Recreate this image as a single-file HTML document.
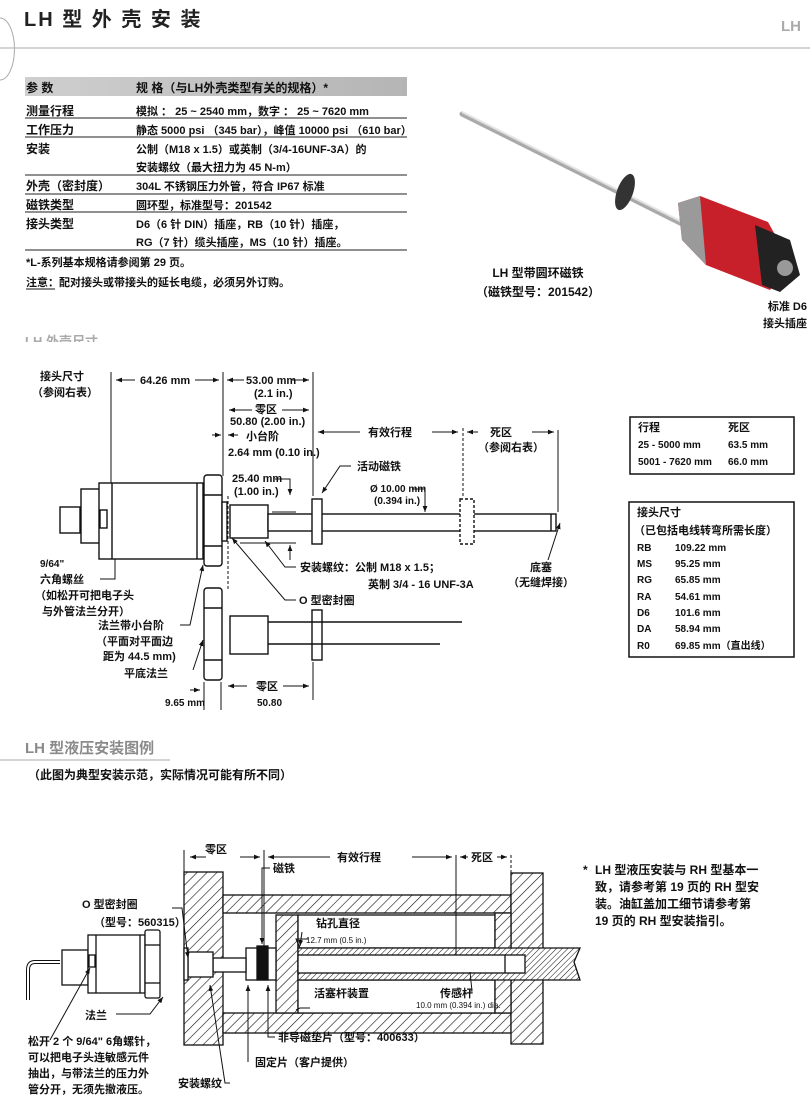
<!DOCTYPE html>
<html><head><meta charset="utf-8"><style>
html,body{margin:0;padding:0;background:#fff;}
svg{display:block;}
text{font-family:"Liberation Sans","Noto Sans CJK SC",sans-serif;font-weight:bold;fill:#111;}
.s{font-size:11px;}
.m{font-size:12px;}
.t{font-size:9px;font-weight:normal;}
</style></head><body>
<svg width="810" height="1100" viewBox="0 0 810 1100" xmlns="http://www.w3.org/2000/svg">
<defs>
<pattern id="h" width="7" height="7" patternUnits="userSpaceOnUse" patternTransform="rotate(45)">
<rect width="7" height="7" fill="#fff"/><line x1="0" y1="0" x2="0" y2="7" stroke="#111" stroke-width="1.2"/></pattern>
<pattern id="h2" width="4" height="4" patternUnits="userSpaceOnUse" patternTransform="rotate(45)">
<rect width="4" height="4" fill="#fff"/><line x1="0" y1="0" x2="0" y2="4" stroke="#111" stroke-width="1"/></pattern>
<marker id="a" viewBox="0 0 10 10" refX="10" refY="5" markerWidth="6" markerHeight="6" orient="auto-start-reverse"><path d="M0,1 L10,5 L0,9z" fill="#111"/></marker>
<clipPath id="cl"><rect x="0" y="334" width="200" height="8"/></clipPath>
</defs>

<!-- header -->
<path d="M0,18 A14,30 0 0 1 0,80" fill="none" stroke="#aaa" stroke-width="1"/>
<text x="24" y="26" style="font-size:20px;letter-spacing:2px;fill:#222">LH 型 外 壳 安 装</text>
<line x1="0" y1="48" x2="810" y2="48" stroke="#bbb" stroke-width="1.3"/>
<text x="781" y="31" style="font-size:15px;fill:#aaa">LH</text>

<!-- spec table -->
<defs><linearGradient id="g" x1="0" x2="1"><stop offset="0" stop-color="#cfcfcf"/><stop offset="1" stop-color="#b5b5b5"/></linearGradient></defs>
<rect x="25" y="77" width="382" height="19" fill="url(#g)"/>
<text class="m" x="26" y="92">参 数</text>
<text class="m" x="136" y="92">规 格（与LH外壳类型有关的规格）*</text>
<g class="s">
<text x="26" y="115" class="m">测量行程</text><text x="136" y="115" class="s">模拟 ： 25 ~ 2540 mm，数字 ： 25 ~ 7620 mm</text>
<text x="26" y="134" class="m">工作压力</text><text x="136" y="134" class="s">静态 5000 psi （345 bar），峰值 10000 psi （610 bar）</text>
<text x="26" y="153" class="m">安装</text><text x="136" y="153" class="s">公制（M18 x 1.5）或英制（3/4-16UNF-3A）的</text>
<text x="136" y="171" class="s">安装螺纹（最大扭力为 45 N-m）</text>
<text x="26" y="190" class="m">外壳（密封度）</text><text x="136" y="190" class="s">304L 不锈钢压力外管，符合 IP67 标准</text>
<text x="26" y="209" class="m">磁铁类型</text><text x="136" y="209" class="s">圆环型，标准型号：201542</text>
<text x="26" y="228" class="m">接头类型</text><text x="136" y="228" class="s">D6（6 针 DIN）插座，RB（10 针）插座，</text>
<text x="136" y="246" class="s">RG（7 针）缆头插座，MS（10 针）插座。</text>
</g>
<g stroke="#222" stroke-width="1"><line x1="25" y1="118" x2="407" y2="118"/><line x1="25" y1="137" x2="407" y2="137"/><line x1="25" y1="175" x2="407" y2="175"/><line x1="25" y1="194" x2="407" y2="194"/><line x1="25" y1="212" x2="407" y2="212"/><line x1="25" y1="250" x2="407" y2="250"/></g>
<text class="s" x="26" y="266">*L-系列基本规格请参阅第 29 页。</text>
<text class="s" x="26" y="286">注意：配对接头或带接头的延长电缆，必须另外订购。</text>
<line x1="26" y1="289" x2="55" y2="289" stroke="#111"/>

<!-- photo -->
<line x1="462" y1="114" x2="690" y2="228" stroke="#aaa" stroke-width="5" stroke-linecap="round"/>
<line x1="462" y1="112" x2="690" y2="226" stroke="#e2e2e2" stroke-width="2"/>
<ellipse cx="625" cy="192" rx="8" ry="19" fill="#333" transform="rotate(20 625 192)"/>
<polygon points="678,203 700,196 768,222 790,262 770,290 706,265 682,240" fill="#c8202a"/>
<polygon points="678,203 700,196 706,265 682,240" fill="#9a9a9a"/>
<polygon points="755,225 790,240 800,275 780,292 762,285" fill="#222"/>
<circle cx="785" cy="268" r="8" fill="#999"/>
<text x="538" y="277" text-anchor="middle" class="m">LH 型带圆环磁铁</text>
<text x="538" y="296" text-anchor="middle" class="m">（磁铁型号：201542）</text>
<text x="807" y="310" text-anchor="end" class="s">标准 D6</text>
<text x="807" y="327" text-anchor="end" class="s">接头插座</text>
<g clip-path="url(#cl)"><text x="25" y="346" style="font-size:13px;fill:#aaa">LH 外壳尺寸</text></g>

<!-- diagram 1 -->
<g stroke="#111" fill="none" stroke-width="1">
<line x1="111" y1="372" x2="111" y2="483"/>
<line x1="223" y1="372" x2="223" y2="476"/>
<line x1="313" y1="372" x2="313" y2="496"/>
<line x1="463" y1="428" x2="463" y2="496" stroke-dasharray="3,2"/>
<line x1="558" y1="430" x2="558" y2="512"/>
<line x1="116" y1="380" x2="135" y2="380" marker-start="url(#a)"/>
<line x1="195" y1="380" x2="219" y2="380" marker-end="url(#a)"/>
<line x1="227" y1="380" x2="244" y2="380" marker-start="url(#a)"/>
<line x1="292" y1="380" x2="309" y2="380" marker-end="url(#a)"/>
<line x1="229" y1="410" x2="252" y2="410" marker-start="url(#a)"/>
<line x1="282" y1="410" x2="309" y2="410" marker-end="url(#a)"/>
<line x1="212" y1="495" x2="221" y2="495" marker-end="url(#a)"/>
<line x1="238" y1="435" x2="228" y2="435" marker-end="url(#a)"/>
<line x1="212" y1="435" x2="221" y2="435" marker-end="url(#a)"/>
<line x1="318" y1="432" x2="360" y2="432" marker-start="url(#a)"/>
<line x1="432" y1="432" x2="458" y2="432" marker-end="url(#a)"/>
<line x1="467" y1="432" x2="478" y2="432" marker-start="url(#a)"/>
<line x1="532" y1="432" x2="554" y2="432" marker-end="url(#a)"/>
<line x1="228" y1="496" x2="228" y2="590" stroke-dasharray="3,2"/>
<polyline points="275,479 290,479 290,495" marker-end="url(#a)"/>
<line x1="272" y1="512" x2="296" y2="512"/>
<line x1="240" y1="543" x2="296" y2="543"/>
<line x1="290" y1="560" x2="290" y2="545" marker-end="url(#a)"/>
<polyline points="351,466 340,466 322,493" marker-end="url(#a)"/>
<polyline points="412,489 425,489 425,512" marker-end="url(#a)"/>
<polyline points="296,567 285,567 265,541" marker-end="url(#a)"/>
<polyline points="296,600 285,600 232,538" marker-end="url(#a)"/>
<polyline points="100,579 115,579 115,525"/>
<polyline points="548,560 560,523" marker-end="url(#a)"/>
<polyline points="180,625 190,625 203,565" marker-end="url(#a)"/>
<polyline points="193,670 203,640" marker-end="url(#a)"/>
<line x1="204" y1="682" x2="204" y2="710"/><line x1="221" y1="682" x2="221" y2="710"/>
<line x1="313" y1="662" x2="313" y2="700"/>
<polyline points="190,690 200,690" marker-end="url(#a)"/>
<line x1="228" y1="686" x2="247" y2="686" marker-start="url(#a)"/>
<line x1="283" y1="686" x2="309" y2="686" marker-end="url(#a)"/>
</g>
<g stroke="#111" stroke-width="1.4" fill="#fff">
<rect x="60" y="507" width="20" height="26"/>
<rect x="81" y="489" width="19" height="54"/>
<rect x="99" y="483" width="104" height="76"/>
<rect x="100" y="510" width="7" height="18"/>
<line x1="112" y1="483" x2="112" y2="559"/><line x1="197" y1="483" x2="197" y2="559"/>
<rect x="204" y="475" width="18" height="91" rx="3"/>
<line x1="204" y1="495" x2="222" y2="495"/><line x1="204" y1="546" x2="222" y2="546"/>
<rect x="222" y="502" width="5" height="39"/>
<rect x="230" y="505" width="38" height="33"/>
<rect x="268" y="514" width="288" height="17"/>
<rect x="312" y="499" width="10" height="45"/>
<rect x="460" y="499" width="14" height="45" stroke-dasharray="3,2"/>
<line x1="551" y1="514" x2="551" y2="531"/>
<rect x="204" y="588" width="18" height="92" rx="3"/>
<line x1="204" y1="608" x2="222" y2="608"/><line x1="204" y1="660" x2="222" y2="660"/>
<rect x="230" y="616" width="38" height="38"/>
<rect x="312" y="610" width="10" height="50"/>
</g>
<g stroke="#111" stroke-width="1.4"><line x1="268" y1="622" x2="462" y2="622"/><line x1="268" y1="644" x2="440" y2="644"/></g>
<g class="s">
<text x="40" y="380">接头尺寸</text><text x="32" y="396">（参阅右表）</text>
<text x="140" y="384">64.26 mm</text>
<text x="246" y="384">53.00 mm</text><text x="254" y="397">(2.1 in.)</text>
<text x="255" y="413">零区</text><text x="230" y="425">50.80 (2.00 in.)</text>
<text x="246" y="440">小台阶</text><text x="228" y="456">2.64 mm (0.10 in.)</text>
<text x="368" y="436">有效行程</text>
<text x="490" y="436">死区</text><text x="478" y="451">（参阅右表）</text>
<text x="357" y="470">活动磁铁</text>
<text x="232" y="482">25.40 mm</text><text x="234" y="495">(1.00 in.)</text>
<text x="370" y="492" style="font-size:10px">Ø 10.00 mm</text><text x="374" y="504" style="font-size:10px">(0.394 in.)</text>
<text x="40" y="567" style="font-size:10px">9/64"</text>
<text x="40" y="583">六角螺丝</text><text x="35" y="599">（如松开可把电子头</text><text x="42" y="615">与外管法兰分开）</text>
<text x="300" y="571">安装螺纹：公制 M18 x 1.5；</text>
<text x="368" y="588">英制 3/4 - 16 UNF-3A</text>
<text x="299" y="604">O 型密封圈</text>
<text x="530" y="571">底塞</text><text x="508" y="586">（无缝焊接）</text>
<text x="98" y="629">法兰带小台阶</text><text x="96" y="645">（平面对平面边</text><text x="103" y="660">距为 44.5 mm)</text>
<text x="124" y="677">平底法兰</text>
<text x="165" y="706" style="font-size:10px">9.65 mm</text>
<text x="256" y="690">零区</text><text x="257" y="706" style="font-size:10px">50.80</text>
</g>

<!-- right tables -->
<rect x="630" y="417" width="164" height="57" fill="none" stroke="#111" stroke-width="1.5"/>
<g class="s">
<text x="638" y="431">行程</text><text x="728" y="431">死区</text>
<text x="638" y="448" style="font-size:10px">25 - 5000    mm</text><text x="728" y="448" style="font-size:10px">63.5 mm</text>
<text x="638" y="465" style="font-size:10px">5001 - 7620 mm</text><text x="728" y="465" style="font-size:10px">66.0 mm</text>
</g>
<rect x="629" y="502" width="165" height="155" fill="none" stroke="#111" stroke-width="1.5"/>
<g class="s" style="font-size:10px">
<text x="637" y="516" class="s">接头尺寸</text>
<text x="634" y="534" class="s">（已包括电线转弯所需长度）</text>
<text x="637" y="551">RB</text><text x="675" y="551">109.22 mm</text>
<text x="637" y="567">MS</text><text x="675" y="567">95.25 mm</text>
<text x="637" y="583">RG</text><text x="675" y="583">65.85 mm</text>
<text x="637" y="600">RA</text><text x="675" y="600">54.61 mm</text>
<text x="637" y="616">D6</text><text x="675" y="616">101.6 mm</text>
<text x="637" y="632">DA</text><text x="675" y="632">58.94 mm</text>
<text x="637" y="649">R0</text><text x="675" y="649">69.85 mm（直出线）</text>
</g>

<!-- section 2 -->
<text x="25" y="753" style="font-size:15px;fill:#8a8a8a">LH 型液压安装图例</text>
<line x1="0" y1="760" x2="170" y2="760" stroke="#bbb" stroke-width="1.3"/>
<text x="28" y="779" class="m">（此图为典型安装示范，实际情况可能有所不同）</text>

<g stroke="#111" stroke-width="1.3">
<rect x="184" y="872" width="39" height="173" fill="url(#h)"/>
<rect x="223" y="895" width="288" height="18" fill="url(#h)"/>
<rect x="223" y="1013" width="288" height="20" fill="url(#h)"/>
<rect x="511" y="873" width="32" height="171" fill="url(#h)"/>
<rect x="276" y="915" width="22" height="98" fill="url(#h)"/>
<rect x="298" y="915" width="197" height="33" fill="#fff"/>
<rect x="298" y="980" width="197" height="33" fill="#fff"/>
<rect x="495" y="913" width="16" height="100" fill="url(#h)"/>
<polygon points="298,948 580,948 574,962 580,980 298,980" fill="url(#h2)"/>
<rect x="298" y="955" width="227" height="18" fill="#fff"/>
<line x1="505" y1="955" x2="505" y2="973"/>
<rect x="246" y="948" width="30" height="32" fill="#fff"/>
<rect x="257" y="946" width="11" height="34" fill="#111"/>
<rect x="213" y="958" width="33" height="14" fill="#fff"/>
<rect x="188" y="952" width="25" height="25" fill="#fff"/>
<rect x="184" y="948" width="4" height="32" fill="#fff"/>
<rect x="62" y="950" width="26" height="35" fill="#fff"/>
<rect x="88" y="935" width="57" height="58" fill="#fff"/>
<line x1="96" y1="935" x2="96" y2="993"/><line x1="140" y1="935" x2="140" y2="993"/>
<rect x="145" y="930" width="15" height="68" rx="2" fill="#fff"/>
<line x1="145" y1="945" x2="160" y2="945"/><line x1="145" y1="983" x2="160" y2="983"/>
<rect x="89" y="955" width="6" height="12" fill="#fff"/>
</g>
<path d="M60,962 L35,962 Q28,962 28,970 L28,1000" stroke="#111" fill="none" stroke-width="4"/>
<path d="M60,962 L35,962 Q28,962 28,970 L28,1000" stroke="#fff" fill="none" stroke-width="2"/>
<g stroke="#111" stroke-width="1" fill="none">
<line x1="184" y1="850" x2="184" y2="872"/><line x1="264" y1="850" x2="264" y2="946"/>
<line x1="456" y1="855" x2="456" y2="955"/><line x1="511" y1="855" x2="511" y2="895" stroke-dasharray="3,2"/>
<line x1="190" y1="857" x2="206" y2="857" marker-start="url(#a)"/>
<line x1="240" y1="857" x2="260" y2="857" marker-end="url(#a)"/>
<line x1="268" y1="857" x2="330" y2="857" marker-start="url(#a)"/>
<line x1="412" y1="857" x2="452" y2="857" marker-end="url(#a)"/>
<line x1="460" y1="857" x2="468" y2="857" marker-start="url(#a)"/>
<line x1="497" y1="857" x2="507" y2="857" marker-end="url(#a)"/>
<polyline points="270,868 262,868 262,944" marker-end="url(#a)"/>
<polyline points="172,908 182,908 188,958" marker-end="url(#a)"/>
<polyline points="302,932 300,946" marker-end="url(#a)"/>
<polyline points="308,939 296,939 300,948"/>
<polyline points="310,1008 300,1008 296,1010"/>
<polyline points="116,1014 150,1014 163,997" marker-end="url(#a)"/>
<polyline points="50,1040 90,968" marker-end="url(#a)"/>
<polyline points="275,1037 268,1037 268,985" marker-end="url(#a)"/>
<polyline points="248,1062 248,985" marker-end="url(#a)"/>
<polyline points="230,1083 225,1083 210,985" marker-end="url(#a)"/>
<polyline points="469,991 472,991 470,972"/>
</g>
<g class="s">
<text x="205" y="853">零区</text>
<text x="337" y="861">有效行程</text>
<text x="471" y="861">死区</text>
<text x="273" y="872">磁铁</text>
<text x="82" y="908">O 型密封圈</text>
<text x="94" y="926">（型号：560315）</text>
<text x="316" y="927">钻孔直径</text>
<text x="306" y="943" class="t" style="font-size:8px">12.7 mm (0.5 in.)</text>
<text x="314" y="997">活塞杆装置</text>
<text x="440" y="997">传感杆</text>
<text x="416" y="1008" class="t" style="font-size:8px">10.0 mm (0.394 in.) dia.</text>
<text x="85" y="1019">法兰</text>
<text x="278" y="1041">非导磁垫片（型号：400633）</text>
<text x="255" y="1066">固定片（客户提供）</text>
<text x="28" y="1045">松开 2 个 9/64" 6角螺针，</text>
<text x="28" y="1061">可以把电子头连敏感元件</text>
<text x="28" y="1077">抽出，与带法兰的压力外</text>
<text x="28" y="1093">管分开，无须先撤液压。</text>
<text x="178" y="1087">安装螺纹</text>
</g>
<g class="m">
<text x="583" y="874">*</text>
<text x="595" y="874">LH 型液压安装与 RH 型基本一</text>
<text x="595" y="891">致，请参考第 19 页的 RH 型安</text>
<text x="595" y="908">装。油缸盖加工细节请参考第</text>
<text x="595" y="925">19 页的 RH 型安装指引。</text>
</g>
</svg>
</body></html>
